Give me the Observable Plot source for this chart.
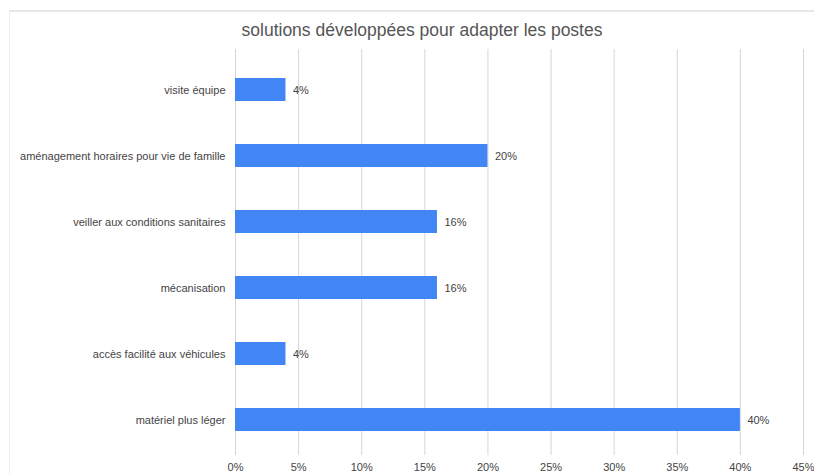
<!DOCTYPE html>
<html><head><meta charset="utf-8">
<script src="https://cdn.jsdelivr.net/npm/d3@7"></script>
<script src="https://cdn.jsdelivr.net/npm/@observablehq/plot@0.6"></script>
<style>
body{margin:0;background:#fff;font-family:"Liberation Sans",Arial,sans-serif;}
#wrap{position:absolute;left:0;top:0;width:814px;height:475px;overflow:hidden;}
#frame{position:absolute;left:9px;top:10px;width:805px;height:465px;border-top:2px solid #e6e6e6;border-left:1px solid #f0f0f0;}
#title{position:absolute;left:0;top:20px;width:844px;text-align:center;font-size:17.5px;color:#555;}
#chart{position:absolute;left:0;top:44px;line-height:0;}
#chart svg{display:block;}
</style></head>
<body><div id="wrap"><div id="frame"></div><div id="title">solutions développées pour adapter les postes</div><div id="chart"></div></div>
<script>
const categories = ["visite équipe","aménagement horaires pour vie de famille","veiller aux conditions sanitaires","mécanisation","accès facilité aux véhicules","matériel plus léger"];
const values = [0.04,0.20,0.16,0.16,0.04,0.40];
const xTicks = [0,0.05,0.10,0.15,0.20,0.25,0.30,0.35,0.40,0.45];
const data = categories.map((c,i)=>({cat:c, v:values[i]}));
const fmt = d => Math.round(d*100) + "%";
const chart = Plot.plot({
  width: 814, height: 431,
  marginLeft: 235, marginRight: 11, marginTop: 10, marginBottom: 20,
  style: {fontFamily: '"Liberation Sans", Arial, sans-serif', fontSize: "11px", color: "#444", background: "transparent"},
  x: {domain: [0, 0.45], ticks: xTicks, tickFormat: fmt, label: null, tickSize: 0, tickPadding: 8},
  y: {domain: categories, label: null, tickSize: 0, tickPadding: 10, paddingInner: 0.65, paddingOuter: 0.325},
  marks: [
    Plot.gridX(xTicks, {stroke: "#d6d6d6", strokeOpacity: 1, insetTop: -5}),
    Plot.barX(data, {x: "v", y: "cat", fill: "#4285f4"}),
    Plot.text(data, {x: "v", y: "cat", text: d => fmt(d.v), textAnchor: "start", dx: 7, fill: "#444", fontSize: 11})
  ]
});
document.getElementById("chart").appendChild(chart);
</script></body></html>
